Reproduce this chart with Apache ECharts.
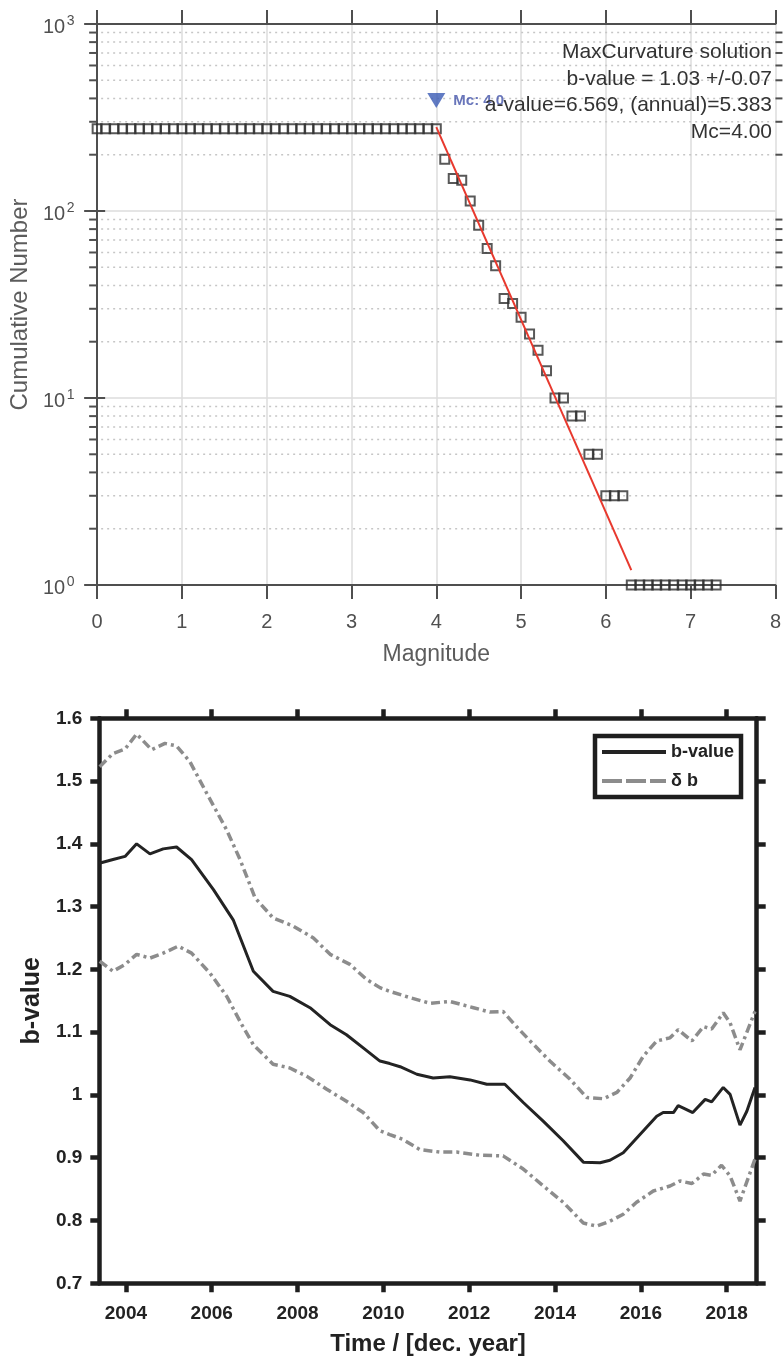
<!DOCTYPE html>
<html>
<head>
<meta charset="utf-8">
<script src="https://cdn.jsdelivr.net/npm/echarts@6/dist/echarts.min.js"></script>
<style>
  html, body { margin: 0; padding: 0; background: #fff; }
  #chart { width: 784px; height: 1358px; }
</style>
</head>
<body>
<div id="chart"></div>
<script>
// ---- Frequency-magnitude distribution (cumulative) ----
const magnitudes = [
  0.0, 0.1, 0.2, 0.3, 0.4, 0.5, 0.6, 0.7, 0.8, 0.9,
  1.0, 1.1, 1.2, 1.3, 1.4, 1.5, 1.6, 1.7, 1.8, 1.9,
  2.0, 2.1, 2.2, 2.3, 2.4, 2.5, 2.6, 2.7, 2.8, 2.9,
  3.0, 3.1, 3.2, 3.3, 3.4, 3.5, 3.6, 3.7, 3.8, 3.9,
  4.0, 4.1, 4.2, 4.3, 4.4, 4.5, 4.6, 4.7, 4.8, 4.9,
  5.0, 5.1, 5.2, 5.3, 5.4, 5.5, 5.6, 5.7, 5.8, 5.9,
  6.0, 6.1, 6.2, 6.3, 6.4, 6.5, 6.6, 6.7, 6.8, 6.9,
  7.0, 7.1, 7.2, 7.3
];
const cumulativeCounts = [
  275, 275, 275, 275, 275, 275, 275, 275, 275, 275,
  275, 275, 275, 275, 275, 275, 275, 275, 275, 275,
  275, 275, 275, 275, 275, 275, 275, 275, 275, 275,
  275, 275, 275, 275, 275, 275, 275, 275, 275, 275,
  275, 189, 149, 146, 113, 84, 63, 51, 34, 32,
  27, 22, 18, 14, 10, 10, 8, 8, 5, 5,
  3, 3, 3, 1, 1, 1, 1, 1, 1, 1,
  1, 1, 1, 1
];
// Gutenberg-Richter fit end points (b = 1.03, a = 6.569)
const fitMagnitudes = [4.0, 6.3];
const fitCounts = [281, 1.2];
// Magnitude of completeness marker
const mcMagnitude = 4.0;
const mcMarkerCount = 390;
// Minor log ticks (2..9 per decade)
const minorTickValues = [2, 3, 4, 5, 6, 7, 8, 9, 20, 30, 40, 50, 60, 70, 80, 90, 200, 300, 400, 500, 600, 700, 800, 900];
const fitSummary = [
  'MaxCurvature solution',
  'b-value = 1.03 +/-0.07',
  'a-value=6.569, (annual)=5.383',
  'Mc=4.00'
];

// ---- b-value through time ----
const yearTicks = [2004, 2006, 2008, 2010, 2012, 2014, 2016, 2018];
const bYears = [
  2003.38, 2003.70, 2003.98, 2004.25, 2004.56, 2004.87, 2005.18, 2005.53, 2006.04, 2006.50,
  2006.97, 2007.43, 2007.82, 2008.29, 2008.76, 2009.14, 2009.53, 2009.92, 2010.15, 2010.39,
  2010.78, 2011.16, 2011.55, 2012.02, 2012.41, 2012.83, 2013.26, 2013.73, 2014.19, 2014.66,
  2015.05, 2015.28, 2015.59, 2015.98, 2016.37, 2016.52, 2016.76, 2016.87, 2017.03, 2017.21,
  2017.50, 2017.65, 2017.92, 2018.08, 2018.31, 2018.47, 2018.66
];
const bValues = [
  1.369, 1.375, 1.380, 1.400, 1.384, 1.392, 1.395, 1.375, 1.327, 1.279,
  1.197, 1.165, 1.157, 1.139, 1.112, 1.096, 1.075, 1.054, 1.050, 1.045,
  1.033, 1.027, 1.029, 1.024, 1.017, 1.017, 0.988, 0.958, 0.927, 0.893,
  0.892, 0.896, 0.908, 0.937, 0.966, 0.972, 0.972, 0.983, 0.978, 0.972,
  0.993, 0.989, 1.012, 1.001, 0.952, 0.974, 1.012
];
const upperYears = [
  2003.39, 2003.70, 2003.98, 2004.25, 2004.60, 2004.91, 2005.18, 2005.49, 2005.88, 2006.35,
  2006.66, 2007.01, 2007.43, 2007.90, 2008.37, 2008.76, 2009.22, 2009.61, 2009.92, 2010.15,
  2010.62, 2011.09, 2011.55, 2012.10, 2012.48, 2012.79, 2013.10, 2013.42, 2013.88, 2014.35,
  2014.74, 2015.13, 2015.44, 2015.75, 2016.06, 2016.37, 2016.68, 2016.87, 2017.19, 2017.46,
  2017.65, 2017.92, 2018.08, 2018.31, 2018.66
];
const upperValues = [
  1.523, 1.544, 1.551, 1.575, 1.550, 1.560, 1.556, 1.531, 1.481, 1.422,
  1.375, 1.314, 1.282, 1.269, 1.250, 1.224, 1.208, 1.184, 1.171, 1.165,
  1.155, 1.146, 1.149, 1.139, 1.132, 1.133, 1.109, 1.086, 1.054, 1.025,
  0.996, 0.994, 1.004, 1.027, 1.062, 1.086, 1.091, 1.104, 1.086, 1.109,
  1.105, 1.131, 1.115, 1.072, 1.133
];
const lowerYears = [
  2003.39, 2003.70, 2003.98, 2004.25, 2004.56, 2004.87, 2005.22, 2005.53, 2005.96, 2006.35,
  2006.70, 2006.97, 2007.43, 2007.82, 2008.21, 2008.68, 2009.14, 2009.53, 2009.92, 2010.15,
  2010.46, 2010.85, 2011.32, 2011.71, 2012.25, 2012.79, 2013.26, 2013.73, 2014.19, 2014.66,
  2014.97, 2015.28, 2015.59, 2015.90, 2016.29, 2016.68, 2016.91, 2017.19, 2017.46, 2017.65,
  2017.88, 2018.08, 2018.31, 2018.66
];
const lowerValues = [
  1.213, 1.197, 1.208, 1.224, 1.218, 1.226, 1.237, 1.226, 1.194, 1.157,
  1.112, 1.080, 1.049, 1.043, 1.030, 1.009, 0.990, 0.972, 0.943, 0.937,
  0.929, 0.913, 0.909, 0.909, 0.904, 0.903, 0.882, 0.855, 0.829, 0.796,
  0.791, 0.799, 0.810, 0.829, 0.847, 0.855, 0.863, 0.859, 0.874, 0.872,
  0.888, 0.871, 0.831, 0.898
];

const zip = (xs, ys) => xs.map((x, i) => [x, ys[i]]);

const FONT = '"Liberation Sans", Arial, Helvetica, sans-serif';
const topAxisColor = '#4f4f4f';
const topLabelColor = '#505050';
const botAxisColor = '#1e1e1e';
const bandColor = '#8c8c8c';
const dashPattern = [9, 4, 3, 4];

const chart = echarts.init(document.getElementById('chart'), null, { renderer: 'canvas' });

const option = {
  backgroundColor: '#ffffff',
  animation: false,
  textStyle: { fontFamily: FONT },
  grid: [
    { left: 95.2, right: 7, top: 24, height: 561, containLabel: false },
    { left: 99.3, right: 27.3, top: 718.3, height: 565, containLabel: false }
  ],
  legend: {
    left: 595,
    top: 736,
    orient: 'vertical',
    itemWidth: 64,
    itemHeight: 14,
    itemGap: 11,
    padding: [7, 7, 7, 5],
    borderColor: botAxisColor,
    borderWidth: 4.5,
    backgroundColor: '#fff',
    data: [
      { name: 'b-value', lineStyle: { width: 4, color: '#232323' } },
      { name: 'δ b', lineStyle: { width: 4, color: bandColor, type: [20, 4] } }
    ],
    itemStyle: { opacity: 0 },
    textStyle: { fontFamily: FONT, fontSize: 18, fontWeight: 'bold', color: '#222' },
    selectedMode: false
  },
  xAxis: [
    {
      gridIndex: 0, type: 'value', min: 0, max: 8, interval: 1, position: 'bottom',
      axisLine: { lineStyle: { color: topAxisColor, width: 2 } },
      axisTick: { length: 14, lineStyle: { color: topAxisColor, width: 2 } },
      axisLabel: { fontSize: 20, color: topLabelColor, margin: 27, fontFamily: FONT },
      splitLine: { show: true, lineStyle: { color: '#dcdcdc', width: 1.5 } },
      name: 'Magnitude', nameLocation: 'middle', nameGap: 58,
      nameTextStyle: { fontSize: 23, color: '#5c5c5c', fontFamily: FONT }
    },
    {
      gridIndex: 0, type: 'value', min: 0, max: 8, interval: 1, position: 'top',
      axisLine: { lineStyle: { color: topAxisColor, width: 2 } },
      axisTick: { length: 14, lineStyle: { color: topAxisColor, width: 2 } },
      axisLabel: { show: false },
      splitLine: { show: false }
    },
    {
      gridIndex: 1, type: 'value', min: 2003.38, max: 2018.7, position: 'bottom',
      axisLine: { lineStyle: { color: botAxisColor, width: 4.5 } },
      axisTick: { customValues: yearTicks, length: 9, lineStyle: { color: botAxisColor, width: 4.5 } },
      axisLabel: {
        customValues: yearTicks, fontSize: 19, fontWeight: 'bold', color: '#222', margin: 21,
        fontFamily: FONT, formatter: v => String(v)
      },
      splitLine: { show: false },
      name: 'Time / [dec. year]', nameLocation: 'middle', nameGap: 49,
      nameTextStyle: { fontSize: 24, fontWeight: 'bold', color: '#222', fontFamily: FONT }
    },
    {
      gridIndex: 1, type: 'value', min: 2003.38, max: 2018.7, position: 'top',
      axisLine: { lineStyle: { color: botAxisColor, width: 4.5 } },
      axisTick: { customValues: yearTicks, length: 9, lineStyle: { color: botAxisColor, width: 4.5 } },
      axisLabel: { show: false },
      splitLine: { show: false }
    }
  ],
  yAxis: [
    {
      gridIndex: 0, type: 'log', logBase: 10, min: 1, max: 1000, position: 'left',
      axisLine: { lineStyle: { color: topAxisColor, width: 2 } },
      axisTick: { length: 13, lineStyle: { color: topAxisColor, width: 2 } },
      axisLabel: {
        margin: 32, fontSize: 20, color: topLabelColor, fontFamily: FONT,
        lineHeight: 7, verticalAlign: 'top',
        formatter: () => '10'
      },
      splitLine: { show: true, lineStyle: { color: '#dcdcdc', width: 1.5 } },
      name: 'Cumulative Number', nameLocation: 'middle', nameGap: 52,
      nameTextStyle: { fontSize: 24, color: '#5c5c5c', fontFamily: FONT }
    },
    {
      gridIndex: 0, type: 'log', logBase: 10, min: 1, max: 1000, position: 'right',
      axisLine: { lineStyle: { color: topAxisColor, width: 2 } },
      axisTick: { length: 8, lineStyle: { color: topAxisColor, width: 2 } },
      axisLabel: { show: false },
      splitLine: { show: false }
    },
    {
      gridIndex: 1, type: 'value', min: 0.7, max: 1.6, interval: 0.1, position: 'left',
      axisLine: { lineStyle: { color: botAxisColor, width: 4.5 } },
      axisTick: { length: 9, lineStyle: { color: botAxisColor, width: 4.5 } },
      axisLabel: { fontSize: 19, fontWeight: 'bold', color: '#222', margin: 17, fontFamily: FONT },
      splitLine: { show: false },
      name: 'b-value', nameLocation: 'middle', nameGap: 50,
      nameTextStyle: { fontSize: 25, fontWeight: 'bold', color: '#222', fontFamily: FONT }
    },
    {
      gridIndex: 1, type: 'value', min: 0.7, max: 1.6, interval: 0.1, position: 'right',
      axisLine: { lineStyle: { color: botAxisColor, width: 4.5 } },
      axisTick: { length: 9, lineStyle: { color: botAxisColor, width: 4.5 } },
      axisLabel: { show: false },
      splitLine: { show: false }
    },
    // decade exponents, set as superscripts beside the "10" labels
    {
      gridIndex: 0, type: 'log', logBase: 10, min: 1, max: 1000, position: 'left',
      axisLine: { show: false },
      axisTick: { show: false },
      splitLine: { show: false },
      axisLabel: {
        margin: 22.5, fontSize: 14, color: topLabelColor, fontFamily: FONT,
        lineHeight: 6, verticalAlign: 'bottom',
        formatter: v => String(Math.round(Math.log10(v)))
      }
    }
  ],
  series: [
    // dotted minor grid + minor ticks of the log axis
    {
      type: 'custom', xAxisIndex: 0, yAxisIndex: 0, silent: true, clip: false, z: 1,
      data: minorTickValues.map(v => [0, v]),
      encode: { x: 0, y: 1 },
      renderItem: (params, api) => {
        const v = api.value(1);
        const a = api.coord([0, v]);
        const b = api.coord([8, v]);
        return {
          type: 'group',
          children: [
            { type: 'line', shape: { x1: a[0] + 4, y1: a[1], x2: b[0] - 2, y2: b[1] },
              style: { stroke: '#c6c6c6', lineWidth: 1.5, lineDash: [2, 4] } },
            { type: 'line', shape: { x1: a[0] - 8, y1: a[1], x2: a[0], y2: a[1] },
              style: { stroke: topAxisColor, lineWidth: 2 } },
            { type: 'line', shape: { x1: b[0], y1: b[1], x2: b[0] + 7, y2: b[1] },
              style: { stroke: topAxisColor, lineWidth: 2 } }
          ]
        };
      }
    },
    {
      name: 'Cumulative', type: 'scatter', xAxisIndex: 0, yAxisIndex: 0, clip: false, z: 3,
      data: zip(magnitudes, cumulativeCounts),
      symbol: 'rect', symbolSize: 9,
      itemStyle: { color: 'rgba(0,0,0,0)', borderColor: '#2e2e2e', borderWidth: 2 }
    },
    {
      name: 'Fit', type: 'line', xAxisIndex: 0, yAxisIndex: 0, z: 4,
      data: zip(fitMagnitudes, fitCounts),
      symbol: 'none',
      lineStyle: { color: '#e8392e', width: 2 }
    },
    {
      name: 'Mc', type: 'scatter', xAxisIndex: 0, yAxisIndex: 0, z: 5,
      data: [[mcMagnitude, mcMarkerCount]],
      symbol: 'triangle', symbolRotate: 180, symbolSize: [18, 15],
      itemStyle: { color: '#3a5ab4' },
      label: {
        show: true, position: 'right', distance: 8,
        formatter: 'Mc: ' + mcMagnitude.toFixed(1),
        fontSize: 15, fontWeight: 'bold', color: '#4454aa', fontFamily: FONT
      }
    },
    {
      name: 'b-value', type: 'line', xAxisIndex: 2, yAxisIndex: 2, z: 4,
      data: zip(bYears, bValues),
      symbol: 'none', showSymbol: false,
      lineStyle: { color: '#232323', width: 3 },
      itemStyle: { color: '#232323' }
    },
    {
      name: 'δ b', type: 'line', xAxisIndex: 2, yAxisIndex: 2, z: 3,
      data: zip(upperYears, upperValues),
      symbol: 'none', showSymbol: false,
      lineStyle: { color: bandColor, width: 3.5, type: dashPattern },
      itemStyle: { color: bandColor }
    },
    {
      name: 'δ b', type: 'line', xAxisIndex: 2, yAxisIndex: 2, z: 3,
      data: zip(lowerYears, lowerValues),
      symbol: 'none', showSymbol: false,
      lineStyle: { color: bandColor, width: 3.5, type: dashPattern },
      itemStyle: { color: bandColor }
    }
  ],
  graphic: [
    {
      type: 'text', x: 772, y: 39.5, z: 100,
      style: {
        text: fitSummary.join('\n'),
        align: 'right', verticalAlign: 'top',
        font: '21px ' + FONT, lineHeight: 26.4,
        fill: '#333'
      }
    }
  ]
};

chart.setOption(option);
</script>
</body>
</html>
